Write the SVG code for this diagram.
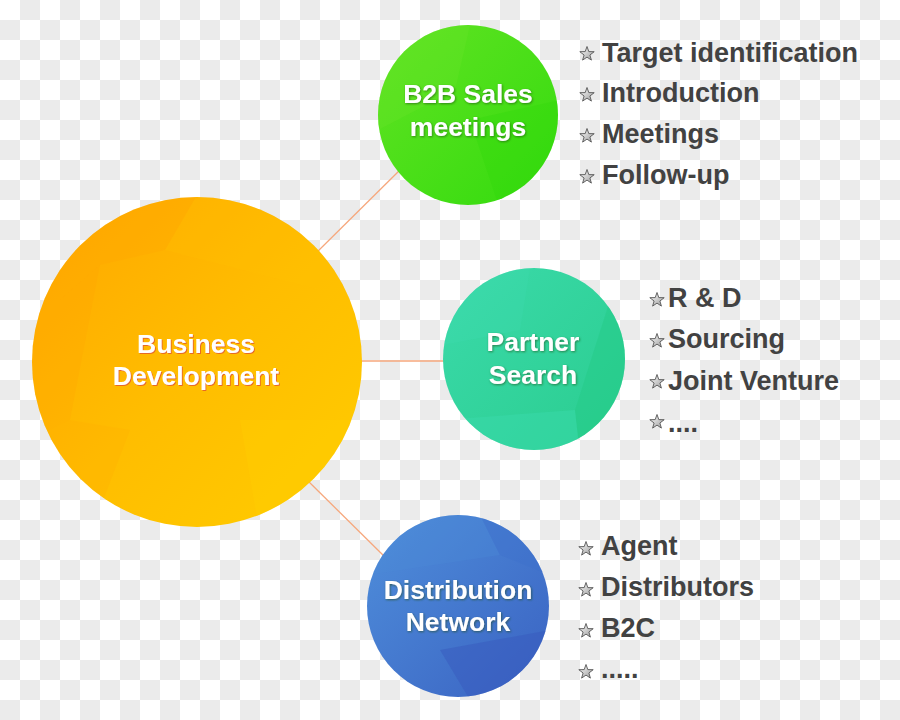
<svg xmlns="http://www.w3.org/2000/svg" width="900" height="720" viewBox="0 0 900 720">
<defs>
<pattern id="checker" width="40" height="40" patternUnits="userSpaceOnUse">
<rect width="40" height="40" fill="#ffffff"/>
<rect x="20" y="0" width="20" height="20" fill="#ebebeb"/>
<rect x="0" y="20" width="20" height="20" fill="#ebebeb"/>
</pattern>
<linearGradient id="gOrange" x1="0" y1="0" x2="1" y2="1">
<stop offset="0" stop-color="#ffa600"/>
<stop offset="0.5" stop-color="#ffbd00"/>
<stop offset="1" stop-color="#ffcd00"/>
</linearGradient>
<linearGradient id="gGreen" x1="0" y1="0" x2="1" y2="1">
<stop offset="0" stop-color="#62e323"/>
<stop offset="1" stop-color="#33db0e"/>
</linearGradient>
<linearGradient id="gTeal" x1="0" y1="0" x2="1" y2="1">
<stop offset="0" stop-color="#3bdaaa"/>
<stop offset="1" stop-color="#2acd8f"/>
</linearGradient>
<linearGradient id="gBlue" x1="0" y1="0" x2="1" y2="1">
<stop offset="0" stop-color="#4f8fdb"/>
<stop offset="1" stop-color="#3a62c2"/>
</linearGradient>
<linearGradient id="gStar" x1="0" y1="0" x2="1" y2="1">
<stop offset="0" stop-color="#ffffff"/>
<stop offset="1" stop-color="#9a9a9a"/>
</linearGradient>
<clipPath id="cBD"><circle cx="197" cy="362" r="165"/></clipPath>
<clipPath id="cB2B"><circle cx="468" cy="115" r="90"/></clipPath>
<clipPath id="cPS"><circle cx="534" cy="359" r="91"/></clipPath>
<clipPath id="cDN"><circle cx="458" cy="606" r="91"/></clipPath>
<filter id="shOrange" x="-10%" y="-20%" width="120%" height="140%">
<feDropShadow dx="1" dy="1" stdDeviation="0.6" flood-color="#e5612a" flood-opacity="0.9"/>
</filter>
<filter id="shDark" x="-10%" y="-20%" width="120%" height="140%">
<feDropShadow dx="0.8" dy="1" stdDeviation="0.8" flood-color="#1a4a10" flood-opacity="0.6"/>
</filter>
<symbol id="star" viewBox="-8 -8 16 16" overflow="visible">
<polygon points="0,-7.5 1.8,-2.4 7.2,-2.3 2.9,1 4.4,6.1 0,3.1 -4.4,6.1 -2.9,1 -7.2,-2.3 -1.8,-2.4" fill="url(#gStar)" stroke="#555" stroke-width="0.9" stroke-linejoin="round"/>
</symbol>
</defs>
<style>
.conn { stroke: #f6a77c; stroke-width: 1.3; fill: none; }
.ctext { font-family: "Liberation Sans", Arial, sans-serif; font-weight: bold; font-size: 26.5px; fill: #ffffff; text-anchor: middle; }
.item { font-family: "Liberation Sans", Arial, sans-serif; font-weight: bold; font-size: 27px; fill: #424242; }
.facet { stroke: none; }
</style>
<rect width="900" height="720" fill="url(#checker)"/>

<g id="connectors">
<line class="conn" x1="310" y1="259" x2="406" y2="164"/>
<line class="conn" x1="355" y1="361" x2="450" y2="361"/>
<line class="conn" x1="305" y1="478" x2="390" y2="562"/>
</g>

<g id="business-development">
<circle cx="197" cy="362" r="165" fill="url(#gOrange)"/>
<g clip-path="url(#cBD)">
<polygon class="facet" points="30,190 200,190 165,250 100,265 60,300 30,300" fill="#ff9f00" opacity="0.2"/>
<polygon class="facet" points="30,300 60,300 100,265 70,420 30,440" fill="#ffa000" opacity="0.2"/>
<polygon class="facet" points="30,440 70,420 130,430 90,535 30,535" fill="#ffa800" opacity="0.18"/>
<polygon class="facet" points="165,250 360,300 360,200 200,190" fill="#ffc400" opacity="0.2"/>
<polygon class="facet" points="240,420 360,420 360,535 260,535" fill="#ffd000" opacity="0.3"/>
</g>
<text class="ctext" filter="url(#shOrange)" x="196" y="353">Business</text>
<text class="ctext" filter="url(#shOrange)" x="196" y="385">Development</text>
</g>

<g id="b2b-sales">
<circle cx="468" cy="115" r="90" fill="url(#gGreen)"/>
<g clip-path="url(#cB2B)">
<polygon class="facet" points="378,25 470,25 455,90 378,130" fill="#6be52c" opacity="0.3"/>
<polygon class="facet" points="470,120 560,100 560,210 500,210" fill="#2ed80a" opacity="0.3"/>
</g>
<text class="ctext" filter="url(#shDark)" x="468" y="103">B2B Sales</text>
<text class="ctext" filter="url(#shDark)" x="468" y="136">meetings</text>
</g>

<g id="partner-search">
<circle cx="534" cy="359" r="91" fill="url(#gTeal)"/>
<g clip-path="url(#cPS)">
<polygon class="facet" points="443,268 530,268 520,330 443,345" fill="#3fdcae" opacity="0.3"/>
<polygon class="facet" points="610,300 630,300 630,455 580,455 575,410" fill="#24c985" opacity="0.45"/>
<polygon class="facet" points="443,420 575,410 580,455 443,455" fill="#3ddcb0" opacity="0.4"/>
</g>
<text class="ctext" filter="url(#shDark)" x="533" y="351">Partner</text>
<text class="ctext" filter="url(#shDark)" x="533" y="384">Search</text>
</g>

<g id="distribution-network">
<circle cx="458" cy="606" r="91" fill="url(#gBlue)"/>
<g clip-path="url(#cDN)">
<polygon class="facet" points="367,515 480,515 500,555 367,575" fill="#4d8bd8" opacity="0.3"/>
<polygon class="facet" points="480,515 550,515 550,575 500,555" fill="#3f72cc" opacity="0.45"/>
<polygon class="facet" points="440,650 550,630 550,700 470,700" fill="#3859bd" opacity="0.5"/>
</g>
<text class="ctext" filter="url(#shDark)" x="458" y="599">Distribution</text>
<text class="ctext" filter="url(#shDark)" x="458" y="631">Network</text>
</g>

<g id="b2b-list">
<use href="#star" x="579" y="46" width="16" height="16"/>
<text class="item" x="602" y="62">Target identification</text>
<use href="#star" x="579" y="87" width="16" height="16"/>
<text class="item" x="602" y="102">Introduction</text>
<use href="#star" x="579" y="128" width="16" height="16"/>
<text class="item" x="602" y="143">Meetings</text>
<use href="#star" x="579" y="169" width="16" height="16"/>
<text class="item" x="602" y="184">Follow-up</text>
</g>

<g id="partner-list">
<use href="#star" x="649" y="292" width="16" height="16"/>
<text class="item" x="668" y="307">R &amp; D</text>
<use href="#star" x="649" y="333" width="16" height="16"/>
<text class="item" x="668" y="348">Sourcing</text>
<use href="#star" x="649" y="374" width="16" height="16"/>
<text class="item" x="668" y="390">Joint Venture</text>
<use href="#star" x="649" y="414" width="16" height="16"/>
<text class="item" x="668" y="432">....</text>
</g>

<g id="distribution-list">
<use href="#star" x="578" y="541" width="16" height="16"/>
<text class="item" x="601" y="555">Agent</text>
<use href="#star" x="578" y="582" width="16" height="16"/>
<text class="item" x="601" y="596">Distributors</text>
<use href="#star" x="578" y="623" width="16" height="16"/>
<text class="item" x="601" y="637">B2C</text>
<use href="#star" x="578" y="664" width="16" height="16"/>
<text class="item" x="601" y="678">.....</text>
</g>
</svg>
